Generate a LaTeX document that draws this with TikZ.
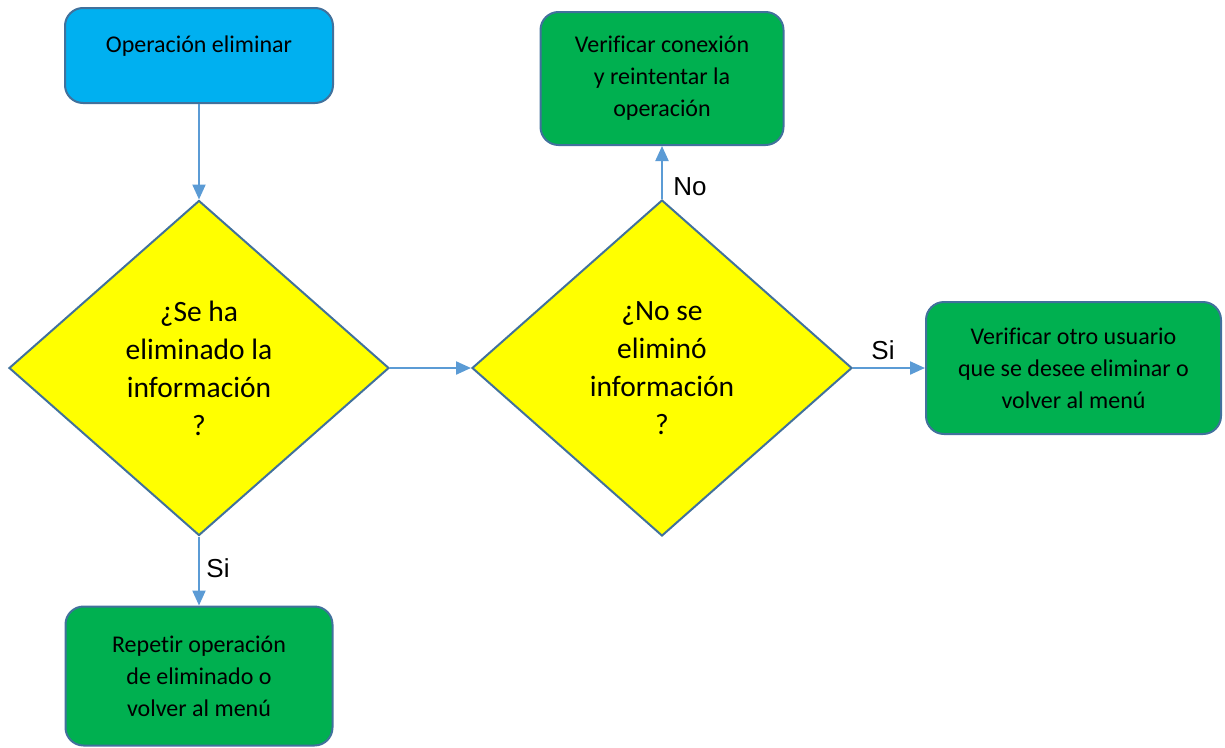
\documentclass[tikz,border=0pt]{standalone}
\usepackage{fontspec}
\setmainfont{Carlito}[Ligatures={NoCommon}]
\newfontfamily\arialf{Liberation Sans}
\usetikzlibrary{shapes.geometric,arrows.meta}
\definecolor{boxblue}{HTML}{00B0F0}
\definecolor{boxgreen}{HTML}{00B050}
\definecolor{diayellow}{HTML}{FFFF00}
\definecolor{edgeblue}{HTML}{41719C}
\definecolor{arrowblue}{HTML}{5B9BD5}
\tikzset{
  procbox/.style={rectangle, rounded corners=18pt, draw=edgeblue, line width=2pt,
    align=center, inner sep=0pt, font=\fontsize{24}{32}\selectfont},
  decision/.style={diamond, draw=edgeblue, line width=2pt, fill=diayellow,
    align=center, inner sep=0pt, font=\fontsize{29.5}{38}\selectfont},
  flow/.style={draw=arrowblue, line width=2.2pt, -{Triangle[length=15pt,width=13pt]}},
  edgelabel/.style={font=\arialf\fontsize{26}{30}\selectfont, inner sep=0pt}
}
\begin{document}
\begin{tikzpicture}[x=1pt,y=-1pt]
\useasboundingbox (0,0) rectangle (1225,747);
\node[procbox, fill=boxblue, minimum width=268pt, minimum height=95pt,
  text height=17pt, text depth=24pt] (op) at (199,55.5) {Operación eliminar};
\node[decision, minimum width=380pt, minimum height=335pt] (d1) at (199,368)
  {¿Se ha\\eliminado la\\información\\?};
\node[decision, minimum width=380pt, minimum height=336pt] (d2) at (662,368)
  {¿No se\\eliminó\\información\\?};
\node[procbox, fill=boxgreen, minimum width=243pt, minimum height=133pt] (vc) at (662,78.5)
  {Verificar conexión\\y reintentar la\\operación};
\node[procbox, fill=boxgreen, minimum width=295pt, minimum height=132pt] (vo) at (1073.5,368)
  {Verificar otro usuario\\que se desee eliminar o\\volver al menú};
\node[procbox, fill=boxgreen, minimum width=267pt, minimum height=139pt] (rep) at (199,676)
  {Repetir operación\\de eliminado o\\volver al menú};
\draw[flow] (op.south) -- (d1.north);
\draw[flow] (d1.east) -- (d2.west);
\draw[flow] (d2.north) -- (vc.south);
\draw[flow] (d2.east) -- (vo.west);
\draw[flow] (d1.south) -- (rep.north);
\node[edgelabel] (lno) at (690,187) {No};
\node[edgelabel] (lsi1) at (883,350) {Si};
\node[edgelabel] (lsi2) at (218,568) {Si};
\end{tikzpicture}
\end{document}
